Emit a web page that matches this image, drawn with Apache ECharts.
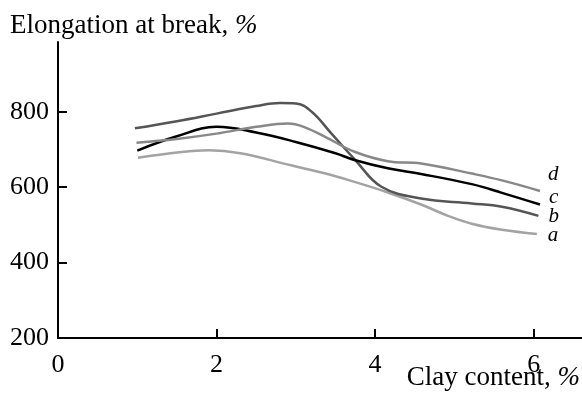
<!DOCTYPE html>
<html>
<head>
<meta charset="utf-8">
<title>Elongation at break vs clay content</title>
<script src="https://cdn.jsdelivr.net/npm/echarts@6/dist/echarts.min.js"></script>
<style>
  html, body { margin: 0; padding: 0; background: #fff; }
  #chart { width: 582px; height: 396px; }
</style>
</head>
<body>
<div id="chart"></div>
<script>
// Elongation at break (%) against clay content (%), four compositions a–d
const curveNames = ['a', 'b', 'c', 'd'];

const clayA = [1.01, 1.5, 1.9, 2.3, 2.94, 3.4, 3.74, 4.16, 4.58, 4.92, 5.22, 5.6, 6.04];
const elongA = [678, 692, 698, 690, 658, 635, 614, 586, 554, 524, 503, 487, 476];

const clayB = [0.97, 1.5, 2.0, 2.5, 2.8, 3.0, 3.2, 3.45, 3.75, 4.08, 4.58, 5.22, 5.6, 6.06];
const elongB = [756, 775, 795, 815, 823, 822, 800, 742, 672, 601, 570, 557, 548, 524];

const clayC = [1.0, 1.5, 2.0, 2.5, 3.0, 3.5, 3.74, 4.16, 4.58, 5.22, 5.6, 6.08];
const elongC = [697, 735, 760, 745, 720, 690, 672, 650, 635, 608, 585, 554];

const clayD = [0.99, 1.5, 2.0, 2.5, 2.9, 3.1, 3.4, 3.74, 4.16, 4.58, 5.22, 5.6, 6.08];
const elongD = [718, 728, 742, 760, 769, 760, 730, 694, 669, 663, 636, 618, 590];

const xTicks = [0, 2, 4, 6];
const yTicks = [200, 400, 600, 800];

const pairs = (xs, ys) => xs.map((x, i) => [x, ys[i]]);

const serif = "'Liberation Serif', 'Times New Roman', serif";
const lineColors = { a: '#a3a3a3', b: '#555555', c: '#000000', d: '#888888' };
const labelOffsets = { a: [11, 2], b: [10, 1], c: [9, -7], d: [8, -16] };
const seriesData = {
  a: pairs(clayA, elongA),
  b: pairs(clayB, elongB),
  c: pairs(clayC, elongC),
  d: pairs(clayD, elongD)
};

const chart = echarts.init(document.getElementById('chart'), null, { renderer: 'canvas' });

const axisText = { color: '#000', fontFamily: serif, fontSize: 26, lineHeight: 22 };
const nameRich = {
  n: { fontFamily: serif, fontSize: 27, lineHeight: 22, fill: '#000' },
  i: { fontFamily: serif, fontSize: 27, lineHeight: 22, fontStyle: 'italic', fill: '#000' }
};

chart.setOption({
  animation: false,
  backgroundColor: '#ffffff',
  grid: { left: 58, right: 0, top: 42, bottom: 58 },
  xAxis: {
    type: 'value',
    min: 0,
    max: 6.61,
    splitLine: { show: false },
    axisLine: { lineStyle: { color: '#000', width: 2 } },
    axisTick: { inside: true, length: 9, customValues: xTicks, lineStyle: { color: '#000', width: 2 } },
    axisLabel: Object.assign({ customValues: xTicks, margin: 16 }, axisText)
  },
  yAxis: {
    type: 'value',
    min: 200,
    max: 985,
    splitLine: { show: false },
    axisLine: { lineStyle: { color: '#000', width: 2 } },
    axisTick: { inside: true, length: 9, customValues: yTicks, lineStyle: { color: '#000', width: 2 } },
    axisLabel: Object.assign({ customValues: yTicks, margin: 9 }, axisText)
  },
  graphic: [
    {
      type: 'text',
      left: 10,
      top: 12,
      style: { text: '{n|Elongation at break, }{i|%}', fill: '#000', rich: nameRich }
    },
    {
      type: 'text',
      right: 2,
      top: 364,
      style: { text: '{n|Clay content, }{i|%}', fill: '#000', rich: nameRich }
    }
  ],
  series: curveNames.map(name => ({
    name: name,
    type: 'line',
    data: seriesData[name],
    smooth: 0.4,
    showSymbol: false,
    symbol: 'none',
    lineStyle: { color: lineColors[name], width: 2.5 },
    endLabel: {
      show: true,
      formatter: '{a}',
      position: 'right',
      distance: 0,
      offset: labelOffsets[name],
      color: '#000',
      fontFamily: serif,
      fontStyle: 'italic',
      fontSize: 21,
      lineHeight: 16
    }
  }))
});
</script>
</body>
</html>
